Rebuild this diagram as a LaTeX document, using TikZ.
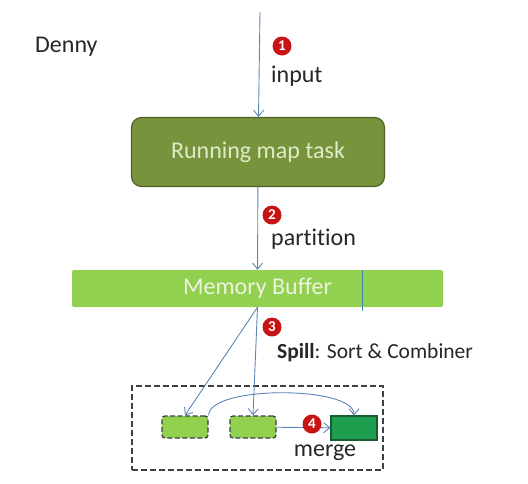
\documentclass[tikz,border=0pt]{standalone}
\usepackage{fontspec}
\setmainfont{Carlito}[Ligatures=NoCommon]
\usepackage{tikz}
\usetikzlibrary{arrows.meta,positioning,shapes.misc}
\definecolor{TaskGreen}{HTML}{77933C}
\definecolor{TaskEdge}{HTML}{4F6228}
\definecolor{TaskText}{HTML}{E0EBC8}
\definecolor{BufGreen}{HTML}{92D050}
\definecolor{MergeGreen}{HTML}{1E9E4E}
\definecolor{MergeEdge}{HTML}{1A5A30}
\definecolor{ArrowBlue}{HTML}{5B86B8}
\definecolor{BadgeRed}{HTML}{C81414}
\definecolor{DashGray}{HTML}{3A4048}
\definecolor{TextGray}{HTML}{262626}

\begin{document}
\begin{tikzpicture}[
    x=1pt, y=-1pt,
    font=\fontsize{24}{28}\selectfont, text=TextGray,
    % main boxes
    task/.style={draw=TaskEdge, line width=1.2pt, rounded corners=10pt, fill=TaskGreen, text=TaskText, minimum width=253pt, minimum height=69pt},
    buf/.style={fill=BufGreen, rounded corners=2pt, text=TaskText!60!white, minimum width=371pt, minimum height=37pt},
    area/.style={draw=DashGray, dash pattern=on 6pt off 3pt, line width=1.3pt, minimum width=251pt, minimum height=84pt},
    spillbox/.style={draw=DashGray, dash pattern=on 5pt off 2.5pt, line width=1.3pt, rounded corners=3pt, fill=BufGreen, minimum width=46pt, minimum height=22pt, inner sep=0pt},
    mergebox/.style={chamfered rectangle, chamfered rectangle corners=north east, chamfered rectangle xsep=5pt, draw=MergeEdge, line width=1.2pt, fill=MergeGreen, minimum width=46pt, minimum height=24pt, inner sep=0pt},
    badge/.style={circle, fill=BadgeRed, text=white, inner sep=0pt, minimum size=19pt, font=\bfseries\fontsize{15}{15}\selectfont},
    lbl/.style={anchor=west, inner sep=0pt},
    arr/.style={-{Straight Barb[length=6pt,width=10pt]}, draw=ArrowBlue, line width=0.9pt}
]
\useasboundingbox (0,0) rectangle (528,483);

% boxes
\coordinate (src) at (260,12);
\node[task] (task) at (258,152) {Running map task};
\node[buf] (buf) at (257.5,288.5) {Memory Buffer};
\node[area] (area) at (257.5,428) {};
\node[spillbox] (spillA) at (185,427) {};
\node[spillbox] (spillB) at (253,427) {};
\node[mergebox] (merged) at (354,428) {};

% buffer mark
\draw[ArrowBlue!70!teal, line width=0.9pt] (362,270) -- (362,311);

% flow
\draw[arr] (src) -- (task);
\draw[arr] (task) -- (buf);
\draw[arr] (buf.south) -- (spillA.north);
\draw[arr] (buf.south) -- (spillB.north);
\draw[arr] (spillA.north east) .. controls +(0,-30) and +(0,-30) .. (merged.north);
\draw[arr] (spillB) -- (merged);

% steps
\node[badge] (b1) at (282,46) {1};
\node[lbl] (inputlbl) at (271,76) {input};
\node[badge] (b2) at (272,215) {2};
\node[lbl] (partlbl) at (271,239) {partition};
\node[badge] (b3) at (272,327) {3};
\node[lbl, font=\fontsize{21.5}{25}\selectfont] (spilllbl) at (277,353) {\textbf{Spill}: Sort \& Combiner};
\node[badge] (b4) at (312,424) {4};
\node (mergelbl) at (325,453) {merge};

\node[lbl] (author) at (35,47) {Denny};
\end{tikzpicture}
\end{document}
